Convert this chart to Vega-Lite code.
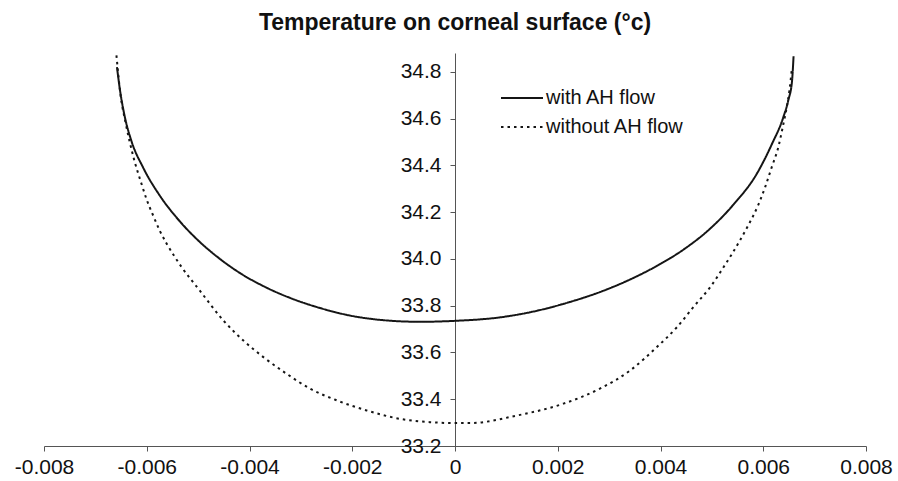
{
  "$schema": "https://vega.github.io/schema/vega-lite/v6.json",
  "autosize": "none",
  "padding": {"left": 44, "top": 53, "right": 32, "bottom": 35},
  "width": 822,
  "height": 393,
  "background": "white",
  "title": {
    "text": "Temperature on corneal surface (°c)",
    "font": "Liberation Sans",
    "fontSize": 23,
    "fontWeight": "bold",
    "color": "#111",
    "anchor": "middle",
    "frame": "group",
    "baseline": "alphabetic",
    "offset": -2
  },
  "config": {
    "view": {"stroke": null},
    "font": "Liberation Sans"
  },
  "data": {
    "values": [
      {"x": -0.00658, "t": 34.82, "s": "with AH flow"},
      {"x": -0.00652, "t": 34.72, "s": "with AH flow"},
      {"x": -0.00643, "t": 34.61, "s": "with AH flow"},
      {"x": -0.0063, "t": 34.505, "s": "with AH flow"},
      {"x": -0.00607, "t": 34.39, "s": "with AH flow"},
      {"x": -0.005745, "t": 34.27, "s": "with AH flow"},
      {"x": -0.005355, "t": 34.16, "s": "with AH flow"},
      {"x": -0.004966, "t": 34.072, "s": "with AH flow"},
      {"x": -0.004577, "t": 34.0, "s": "with AH flow"},
      {"x": -0.00419, "t": 33.94, "s": "with AH flow"},
      {"x": -0.00367, "t": 33.877, "s": "with AH flow"},
      {"x": -0.00321, "t": 33.833, "s": "with AH flow"},
      {"x": -0.00269, "t": 33.794, "s": "with AH flow"},
      {"x": -0.00205, "t": 33.758, "s": "with AH flow"},
      {"x": -0.0014, "t": 33.738, "s": "with AH flow"},
      {"x": -0.00068, "t": 33.731, "s": "with AH flow"},
      {"x": 0.0, "t": 33.735, "s": "with AH flow"},
      {"x": 0.00088, "t": 33.75, "s": "with AH flow"},
      {"x": 0.00153, "t": 33.775, "s": "with AH flow"},
      {"x": 0.00218, "t": 33.812, "s": "with AH flow"},
      {"x": 0.00282, "t": 33.858, "s": "with AH flow"},
      {"x": 0.00334, "t": 33.905, "s": "with AH flow"},
      {"x": 0.00393, "t": 33.97, "s": "with AH flow"},
      {"x": 0.00445, "t": 34.04, "s": "with AH flow"},
      {"x": 0.00497, "t": 34.13, "s": "with AH flow"},
      {"x": 0.00542, "t": 34.232, "s": "with AH flow"},
      {"x": 0.005875, "t": 34.364, "s": "with AH flow"},
      {"x": 0.006167, "t": 34.49, "s": "with AH flow"},
      {"x": 0.00639, "t": 34.605, "s": "with AH flow"},
      {"x": 0.00649, "t": 34.68, "s": "with AH flow"},
      {"x": 0.00656, "t": 34.76, "s": "with AH flow"},
      {"x": 0.00659, "t": 34.866, "s": "with AH flow"},
      {"x": -0.00659, "t": 34.87, "s": "without AH flow"},
      {"x": -0.00651, "t": 34.7, "s": "without AH flow"},
      {"x": -0.00641, "t": 34.58, "s": "without AH flow"},
      {"x": -0.006265, "t": 34.44, "s": "without AH flow"},
      {"x": -0.006101, "t": 34.32, "s": "without AH flow"},
      {"x": -0.006004, "t": 34.255, "s": "without AH flow"},
      {"x": -0.005875, "t": 34.185, "s": "without AH flow"},
      {"x": -0.005745, "t": 34.12, "s": "without AH flow"},
      {"x": -0.005615, "t": 34.066, "s": "without AH flow"},
      {"x": -0.005453, "t": 34.008, "s": "without AH flow"},
      {"x": -0.005322, "t": 33.965, "s": "without AH flow"},
      {"x": -0.00497, "t": 33.865, "s": "without AH flow"},
      {"x": -0.00451, "t": 33.737, "s": "without AH flow"},
      {"x": -0.00412, "t": 33.651, "s": "without AH flow"},
      {"x": -0.00373, "t": 33.58, "s": "without AH flow"},
      {"x": -0.00328, "t": 33.509, "s": "without AH flow"},
      {"x": -0.00282, "t": 33.445, "s": "without AH flow"},
      {"x": -0.0023, "t": 33.395, "s": "without AH flow"},
      {"x": -0.00172, "t": 33.352, "s": "without AH flow"},
      {"x": -0.00107, "t": 33.316, "s": "without AH flow"},
      {"x": -0.00049, "t": 33.302, "s": "without AH flow"},
      {"x": 0.0, "t": 33.298, "s": "without AH flow"},
      {"x": 0.00029, "t": 33.298, "s": "without AH flow"},
      {"x": 0.0012, "t": 33.33, "s": "without AH flow"},
      {"x": 0.00211, "t": 33.381, "s": "without AH flow"},
      {"x": 0.00282, "t": 33.445, "s": "without AH flow"},
      {"x": 0.00341, "t": 33.523, "s": "without AH flow"},
      {"x": 0.00393, "t": 33.623, "s": "without AH flow"},
      {"x": 0.00432, "t": 33.708, "s": "without AH flow"},
      {"x": 0.00464, "t": 33.794, "s": "without AH flow"},
      {"x": 0.00497, "t": 33.88, "s": "without AH flow"},
      {"x": 0.005258, "t": 33.975, "s": "without AH flow"},
      {"x": 0.005388, "t": 34.02, "s": "without AH flow"},
      {"x": 0.00555, "t": 34.08, "s": "without AH flow"},
      {"x": 0.005712, "t": 34.145, "s": "without AH flow"},
      {"x": 0.005906, "t": 34.232, "s": "without AH flow"},
      {"x": 0.006037, "t": 34.307, "s": "without AH flow"},
      {"x": 0.006167, "t": 34.393, "s": "without AH flow"},
      {"x": 0.006296, "t": 34.48, "s": "without AH flow"},
      {"x": 0.00638, "t": 34.564, "s": "without AH flow"},
      {"x": 0.00646, "t": 34.652, "s": "without AH flow"},
      {"x": 0.00651, "t": 34.72, "s": "without AH flow"},
      {"x": 0.00656, "t": 34.82, "s": "without AH flow"}
    ]
  },
  "mark": {"type": "line", "color": "#151515", "strokeWidth": 2, "interpolate": "monotone"},
  "encoding": {
    "x": {
      "field": "x",
      "type": "quantitative",
      "scale": {"domain": [-0.008, 0.008], "nice": false, "zero": false},
      "axis": {
        "title": null,
        "values": [-0.008, -0.006, -0.004, -0.002, 0, 0.002, 0.004, 0.006, 0.008],
        "labelExpr": "replace(format(datum.value, '.3~f'), '\u2212', '-')",
        "grid": false,
        "domainColor": "#555",
        "tickColor": "#555",
        "tickSize": 5,
        "labelFontSize": 21,
        "labelColor": "#111",
        "labelPadding": 5,
        "labelFlush": false,
        "labelOverlap": false
      }
    },
    "y": {
      "field": "t",
      "type": "quantitative",
      "scale": {"domain": [33.2, 34.88], "nice": false, "zero": false},
      "axis": {
        "title": null,
        "values": [33.2, 33.4, 33.6, 33.8, 34.0, 34.2, 34.4, 34.6, 34.8],
        "format": ".1f",
        "offset": -411,
        "grid": false,
        "domainColor": "#555",
        "tickColor": "#555",
        "tickSize": 5,
        "labelFontSize": 21,
        "labelColor": "#111",
        "labelPadding": 9,
        "labelOverlap": false,
        "labelFlush": false,
        "labelBound": false
      }
    },
    "strokeDash": {
      "field": "s",
      "type": "nominal",
      "scale": {"domain": ["with AH flow", "without AH flow"], "range": [[1, 0], [2.5, 4]]},
      "legend": {
        "title": null,
        "orient": "none",
        "legendX": 468,
        "legendY": 35,
        "padding": 0,
        "symbolType": "M-3,0H3",
        "symbolSize": 196,
        "symbolStrokeWidth": 2,
        "symbolStrokeColor": "#151515",
        "labelFontSize": 20,
        "labelColor": "#111",
        "labelOffset": 14,
        "rowPadding": 9,
        "encode": {
          "symbols": {
            "update": {
              "strokeDash": [
                {"test": "datum.value === 'without AH flow'", "value": [5, 5]},
                {"value": [1, 0]}
              ]
            }
          }
        }
      }
    }
  }
}
